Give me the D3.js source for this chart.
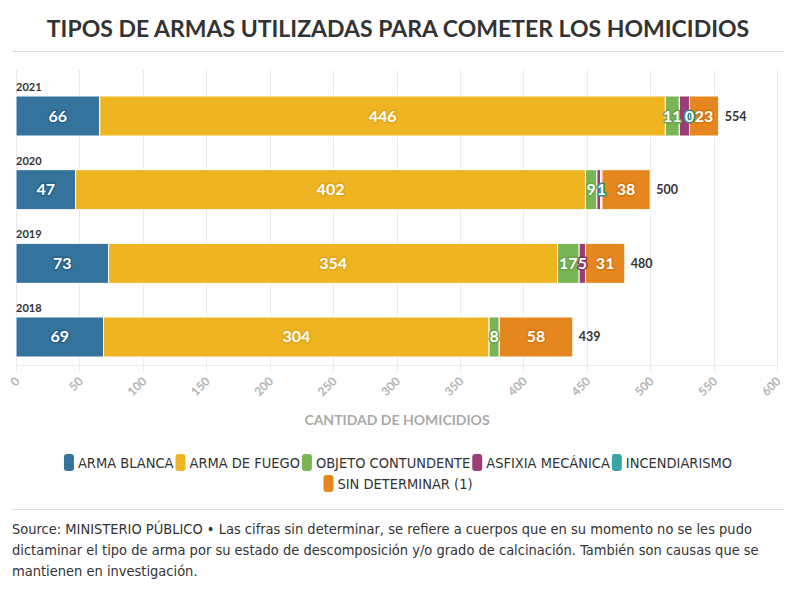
<!DOCTYPE html>
<html>
<head>
<meta charset="utf-8">
<script src="https://cdn.jsdelivr.net/npm/d3@7"></script>
<style>
  body { margin: 0; background: #fff; }
  svg text { font-family: "Source Sans Pro", Lato, "Noto Sans", sans-serif; }
  .narrow { font-family: "Liberation Sans Narrow", "DejaVu Sans Condensed", Roboto, sans-serif !important; }
</style>
</head>
<body>
<svg class="chart"></svg>
<script>
let years = ['2021', '2020', '2019', '2018']
let series = ['ARMA BLANCA', 'ARMA DE FUEGO', 'OBJETO CONTUNDENTE', 'ASFIXIA MECÁNICA', 'INCENDIARISMO', 'SIN DETERMINAR (1)']
let colorGroup = ['#33739c', '#eeb422', '#7ab555', '#9b3d76', '#3aa5a6', '#e5871e']
let labelHalo = ['#2a6187', '#e0a716', '#6ba346', '#86305f', '#2b8f90', '#d87610']

// one array per series, in year order (null = no data)
let armaBlanca = [66, 47, 73, 69]
let armaFuego = [446, 402, 354, 304]
let objetoContundente = [11, 9, 17, 8]
let asfixia = [8, 3, 5, null]
let incendiarismo = [0, 1, null, null]
let sinDeterminar = [23, 38, 31, 58]
let totals = [554, 500, 480, 439]

let xTicks = [0, 50, 100, 150, 200, 250, 300, 350, 400, 450, 500, 550, 600]

let values = [armaBlanca, armaFuego, objetoContundente, asfixia, incendiarismo, sinDeterminar]

let svg_width = 796
let svg_height = 600

let svg = d3.select('.chart')
  .attr('width', svg_width)
  .attr('height', svg_height)

// title + rule
svg.append('text')
  .text('TIPOS DE ARMAS UTILIZADAS PARA COMETER LOS HOMICIDIOS')
  .attr('x', 398)
  .attr('y', 37)
  .attr('text-anchor', 'middle')
  .attr('font-size', 23)
  .attr('font-weight', 700)
  .attr('fill', '#333')

svg.append('line')
  .attr('x1', 12).attr('x2', 784)
  .attr('y1', 51.5).attr('y2', 51.5)
  .attr('stroke', '#ddd')

//scales
let scaleX = d3.scaleLinear()
  .domain([0, 600])
  .range([16, 777])

let scaleY = d3.scaleBand()
  .domain(years)
  .range([96, 357])
  .paddingInner(0.457)
  .paddingOuter(0)

let barH = scaleY.bandwidth()

// grid
let grid = svg.append('g')
grid.selectAll('line')
  .data(xTicks)
  .enter()
  .append('line')
  .attr('x1', d => Math.round(scaleX(d)) + 0.5)
  .attr('x2', d => Math.round(scaleX(d)) + 0.5)
  .attr('y1', 70)
  .attr('y2', 372)
  .attr('stroke', '#ebebeb')

svg.append('line')
  .attr('x1', 16).attr('x2', 777)
  .attr('y1', 365.5).attr('y2', 365.5)
  .attr('stroke', '#ebebeb')

// axis labels (rotated)
let axisX = d3.axisBottom(scaleX).tickValues(xTicks).tickSize(0).tickFormat(d3.format('d'))
let axisG = svg.append('g')
  .attr('transform', translate(0, 368))
  .call(axisX)
axisG.select('.domain').remove()
axisG.selectAll('.tick text')
  .attr('fill', '#b3b3b3')
  .attr('font-size', 12)
  .attr('font-weight', 700)
  .attr('font-family', 'Lato, sans-serif')
  .attr('text-anchor', 'end')
  .attr('dy', 0)
  .attr('y', 0)
  .attr('transform', 'translate(4,14) rotate(-45)')

svg.append('text')
  .text('CANTIDAD DE HOMICIDIOS')
  .attr('x', 397)
  .attr('y', 425)
  .attr('text-anchor', 'middle')
  .attr('font-size', 14)
  .attr('font-weight', 700)
  .attr('fill', '#aaa')

// stack
let rows = years.map((y, i) => {
  let x0 = 0
  return series.map((s, k) => {
    let v = values[k][i]
    let seg = { year: y, k: k, v: v, x0: x0, x1: x0 + (v || 0) }
    x0 += (v || 0)
    return seg
  })
})

years.forEach((y, i) => {
  let top = scaleY(y)
  svg.append('text')
    .text(y)
    .attr('x', 16)
    .attr('y', top - 5)
    .attr('font-size', 11)
    .attr('font-weight', 700)
    .attr('fill', '#333')

  let g = svg.append('g')
  g.selectAll('rect')
    .data(rows[i].filter(d => d.v))
    .enter()
    .append('rect')
    .attr('x', d => scaleX(d.x0))
    .attr('y', top)
    .attr('width', d => scaleX(d.x1) - scaleX(d.x0))
    .attr('height', barH)
    .attr('fill', d => colorGroup[d.k])
    .attr('stroke', '#fff')
    .attr('stroke-width', 1)

  // labels, placed right-to-left, skipping overlaps
  let placed = []
  let segs = rows[i].filter(d => d.v !== null).slice().reverse()
  segs.forEach(d => {
    let cx = scaleX((d.x0 + d.x1) / 2)
    let t = g.append('text')
      .text(d.v)
      .attr('x', cx)
      .attr('y', top + barH / 2 + 5.5)
      .attr('text-anchor', 'middle')
      .attr('font-size', 16)
      .attr('font-weight', 700)
      .attr('fill', '#fff')
      .attr('stroke', labelHalo[d.k])
      .attr('stroke-width', 3)
      .attr('paint-order', 'stroke')
      .attr('stroke-linejoin', 'round')
    let w = t.node().getComputedTextLength()
    let a = cx - w / 2, b = cx + w / 2
    if (placed.some(p => a < p[1] && b > p[0])) { t.remove(); return }
    placed.push([a, b])
  })

  svg.append('text')
    .text(totals[i])
    .attr('x', scaleX(rows[i][5].x1) + 6)
    .attr('y', top + barH / 2 + 4.5)
    .attr('font-size', 12.5)
    .attr('font-weight', 700)
    .attr('fill', '#333')
})

// legend
let legend = svg.append('g')
let items = series.map((s, k) => {
  let t = legend.append('text')
    .attr('class', 'narrow')
    .text(s)
    .attr('font-size', 14.5)
    .attr('fill', '#333')
  return { t: t, k: k, w: 14 + t.node().getComputedTextLength() }
})
let legendRows = [[]], rowW = 0
items.forEach(it => {
  if (rowW + it.w > 700 && legendRows[legendRows.length - 1].length) { legendRows.push([]); rowW = 0 }
  legendRows[legendRows.length - 1].push(it)
  rowW += it.w + 2
})
legendRows.forEach((r, ri) => {
  let total = d3.sum(r, d => d.w) + 2 * (r.length - 1)
  let x = 398 - total / 2
  let y = 463 + ri * 21
  r.forEach(it => {
    legend.append('rect')
      .attr('x', x).attr('y', y - 9)
      .attr('width', 10).attr('height', 17)
      .attr('rx', 3)
      .attr('fill', colorGroup[it.k])
    it.t.attr('x', x + 14).attr('y', y + 5)
    x += it.w + 2
  })
})

// footer
svg.append('line')
  .attr('x1', 12).attr('x2', 784)
  .attr('y1', 509.5).attr('y2', 509.5)
  .attr('stroke', '#ddd')

let footer = [
  'Source: MINISTERIO PÚBLICO • Las cifras sin determinar, se refiere a cuerpos que en su momento no se les pudo',
  'dictaminar el tipo de arma por su estado de descomposición y/o grado de calcinación. También son causas que se',
  'mantienen en investigación.'
]
svg.selectAll('.foot')
  .data(footer)
  .enter()
  .append('text')
  .attr('class', 'foot narrow')
  .text(d => d)
  .attr('x', 12)
  .attr('y', (d, i) => 534 + i * 21)
  .attr('font-size', 14.5)
  .attr('fill', '#333')

function translate(x, y) {
  return 'translate(' + x + ',' + y + ')';
}
</script>
</body>
</html>
